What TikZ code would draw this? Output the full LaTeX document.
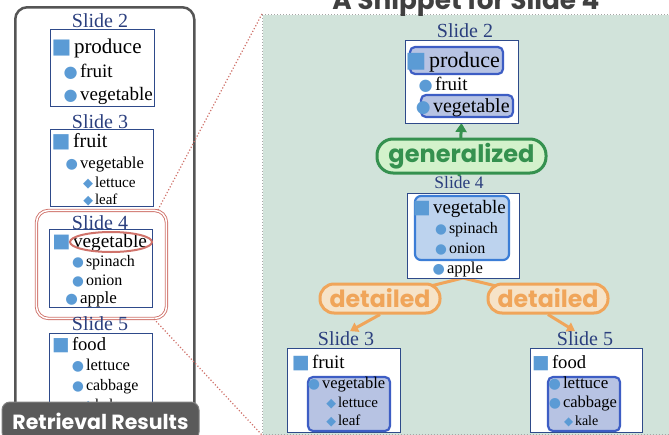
\documentclass[tikz,border=0pt]{standalone}
\usepackage{fontspec}
\setmainfont{Liberation Serif}
\newfontfamily\symf{DejaVu Sans}
\newfontfamily\gothic{Poppins}
\usetikzlibrary{arrows.meta,shapes.geometric}
\definecolor{navy}{HTML}{2B3F7E}
\definecolor{boxb}{HTML}{2E4A8A}
\definecolor{bul}{HTML}{5B9BD5}
\definecolor{hlfill}{HTML}{B7C3E3}
\definecolor{hlbord}{HTML}{3D5DC4}
\definecolor{hlfillb}{HTML}{BDD3EE}
\definecolor{hlbordb}{HTML}{3B7DD6}
\definecolor{panelbg}{HTML}{D1E3DA}
\definecolor{grn}{HTML}{35914F}
\definecolor{grnfill}{HTML}{D3F2CB}
\definecolor{org}{HTML}{F0A55A}
\definecolor{orgfill}{HTML}{F6E3C8}
\definecolor{redb}{HTML}{D0736B}
\definecolor{dgray}{HTML}{555555}
\definecolor{lblgray}{HTML}{5A5A5A}
\definecolor{ttlgray}{HTML}{404040}
\newcommand\fs[1]{\fontsize{#1}{#1}\selectfont}
\newcommand\BS{\llap{\textcolor{bul}{\symf ■}\hspace{0.12em}}}
\newcommand\BC{\llap{\textcolor{bul}{\symf\scalebox{0.85}{●}}\hspace{0.12em}}}
\newcommand\BD{\llap{\textcolor{bul}{\symf\scalebox{0.85}{◆}}\hspace{0.12em}}}
\pgfdeclarelayer{bg}
\pgfdeclarelayer{mid}
\pgfsetlayers{bg,mid,main}
\begin{document}
\begin{tikzpicture}[x=1pt,y=-1pt,
  txt/.style={anchor=base west, inner sep=0, outer sep=0},
  ttl/.style={anchor=base, inner sep=0, outer sep=0, text=navy},
  slidebox/.style={draw=boxb, line width=0.9, fill=white, anchor=north west, inner sep=0, outer sep=0},
  hl/.style={draw=hlbord, fill=hlfill, line width=2.2, rounded corners=5},
  hlb/.style={draw=hlbordb, fill=hlfillb, line width=2.2, rounded corners=6},
  grpill/.style={draw=grn, fill=grnfill, line width=3, rounded corners=16, text=grn, inner sep=0, minimum width=169, minimum height=34},
  orpill/.style={draw=org, fill=orgfill, line width=3, rounded corners=14, text=org, inner sep=0, minimum width=120, minimum height=29},
  grline/.style={draw=grn, line width=3},
  orline/.style={draw=org, line width=3},
  reddot/.style={draw=redb, line width=1.2, dotted}
]
\useasboundingbox (0,0) rectangle (669,434);
\clip (0,0) rectangle (669,434);

% ---------------- left panel ----------------
\node[draw=dgray, line width=2.5, rounded corners=12, minimum width=179, minimum height=430, anchor=north west, inner sep=0] (lp) at (14,6) {};

% Slide 2
\node[ttl, font=\fs{20}] (l2t) at (100,27) {Slide 2};
\node[slidebox, minimum width=104, minimum height=77] (l2) at (50,29) {};
\node[txt, font=\fs{21}] (l2a) at (74,53) {\BS produce};
\node[txt, font=\fs{19}] (l2b) at (80,77) {\BC fruit};
\node[txt, font=\fs{19}] (l2c) at (80,100) {\BC vegetable};

% Slide 3
\node[ttl, font=\fs{20}] (l3t) at (100,128) {Slide 3};
\node[slidebox, minimum width=103, minimum height=77] (l3) at (50,129) {};
\node[txt, font=\fs{20}] (l3a) at (73,147) {\BS fruit};
\node[txt, font=\fs{16.7}] (l3b) at (80,168) {\BC vegetable};
\node[txt, font=\fs{15.3}] (l3c) at (95,187) {\BD lettuce};
\node[txt, font=\fs{15}] (l3d) at (95,204) {\BD leaf};

% Slide 4 (selected)
\node[draw=redb, double=white, double distance=1.5, line width=0.9, rounded corners=12, minimum width=130, minimum height=108, anchor=north west, inner sep=0] (rb) at (36,210) {};
\node[ttl, font=\fs{20}] (l4t) at (100,229) {Slide 4};
\node[slidebox, minimum width=103, minimum height=78] (l4) at (49,229) {};
\node[txt, font=\fs{19.3}] (l4a) at (73,247) {\BS vegetable};
\node[draw=redb, line width=2, ellipse, minimum width=82, minimum height=20, inner sep=0] (l4e) at (111,242) {};
\node[txt, font=\fs{16}] (l4b) at (86,266) {\BC spinach};
\node[txt, font=\fs{16}] (l4c) at (86,285) {\BC onion};
\node[txt, font=\fs{17}] (l4d) at (80,303) {\BC apple};

% Slide 5
\node[ttl, font=\fs{20}] (l5t) at (100,330) {Slide 5};
\node[slidebox, minimum width=103, minimum height=90] (l5) at (49,333) {};
\node[txt, font=\fs{18.6}] (l5a) at (72,350) {\BS food};
\node[txt, font=\fs{16.5}] (l5b) at (86,370) {\BC lettuce};
\node[txt, font=\fs{16}] (l5c) at (86,390) {\BC cabbage};
\node[txt, font=\fs{15}] (l5d) at (95,409) {\BD kale};

% label
\node[draw=gray, fill=lblgray, line width=1, rounded corners=8, minimum width=197, minimum height=38, inner sep=0, text=white] (rr) at (100.5,421) {\resizebox{176pt}{!}{\gothic\bfseries Retrieval Results}};

% ---------------- right panel ----------------
\begin{pgfonlayer}{bg}
\node[fill=panelbg, draw=gray!70, dotted, line width=1, minimum width=420, minimum height=420, anchor=north west, inner sep=0] (rp) at (262,14) {};
\end{pgfonlayer}
\node[anchor=base, inner sep=0, text=ttlgray] (tt) at (466,9) {\resizebox{267pt}{!}{\gothic\bfseries A Snippet for Slide 4}};

% Slide 2 (right)
\node[ttl, font=\fs{20}] (r2t) at (465,37) {Slide 2};
\node[slidebox, minimum width=113, minimum height=83] (r2) at (405,40) {};
\draw[hl] (410,47) rectangle (503,74);
\draw[hl] (421,95) rectangle (513,117);
\node[txt, font=\fs{22}] (r2a) at (429,67) {\BS produce};
\node[txt, font=\fs{19}] (r2b) at (435,90) {\BC fruit};
\node[txt, font=\fs{20}] (r2c) at (433,112) {\BC vegetable};

% Slide 4 (right)
\node[ttl, font=\fs{17.5}] (r4t) at (459,188) {Slide 4};
\node[slidebox, minimum width=112, minimum height=85] (r4) at (407,193) {};
\draw[hlb] (415,196) rectangle (509,260);
\node[txt, font=\fs{19}] (r4a) at (433,213) {\BS vegetable};
\node[txt, font=\fs{16}] (r4b) at (449,233) {\BC spinach};
\node[txt, font=\fs{16}] (r4c) at (449,253) {\BC onion};
\node[txt, font=\fs{16.6}] (r4d) at (447,273) {\BC apple};

% Slide 3 (right)
\node[ttl, font=\fs{20}] (r3t) at (346,345) {Slide 3};
\node[slidebox, minimum width=113, minimum height=84] (r3) at (287,348) {};
\draw[hl] (308,377) rectangle (390,431);
\node[txt, font=\fs{19}] (r3a) at (312,368) {\BS fruit};
\node[txt, font=\fs{16.5}] (r3b) at (322,388) {\BC vegetable};
\node[txt, font=\fs{15}] (r3c) at (338,407) {\BD lettuce};
\node[txt, font=\fs{15}] (r3d) at (338,425) {\BD leaf};

% Slide 5 (right)
\node[ttl, font=\fs{20}] (r5t) at (585,345) {Slide 5};
\node[slidebox, minimum width=112, minimum height=84] (r5) at (530,348) {};
\draw[hl] (548,377) rectangle (620,431);
\node[txt, font=\fs{18.6}] (r5a) at (552,368) {\BS food};
\node[txt, font=\fs{17}] (r5b) at (563,388) {\BC lettuce};
\node[txt, font=\fs{16.5}] (r5c) at (563,407) {\BC cabbage};
\node[txt, font=\fs{14}] (r5d) at (575,425) {\BD kale};

% relation pills
\node[grpill] (g) at (461.5,156) {\resizebox{146pt}{!}{\gothic\bfseries generalized}};
\node[orpill] (d1) at (380,298.5) {\resizebox{101pt}{!}{\gothic\bfseries detailed}};
\node[orpill] (d2) at (548,298.5) {\resizebox{101pt}{!}{\gothic\bfseries detailed}};

\begin{pgfonlayer}{mid}
\draw[grline, -{Triangle[length=9pt,width=11pt]}] (r4t.north) -- (r2.south);
\draw[orline] (r4.south) -- (d1.center);
\draw[orline] (r4.south) -- (d2.center);
\draw[orline, -{Triangle[length=8pt,width=10pt]}] (d1.south) -- ([xshift=4pt]r3t.north);
\draw[orline, -{Triangle[length=8pt,width=10pt]}] (d2.south) -- ([xshift=-10pt]r5t.north);
\end{pgfonlayer}

% zoom lines
\draw[reddot] ([xshift=-9pt]rb.north east) -- (rp.north west);
\draw[reddot] ([xshift=-13pt]rb.south east) -- (rp.south west);
\end{tikzpicture}
\end{document}
